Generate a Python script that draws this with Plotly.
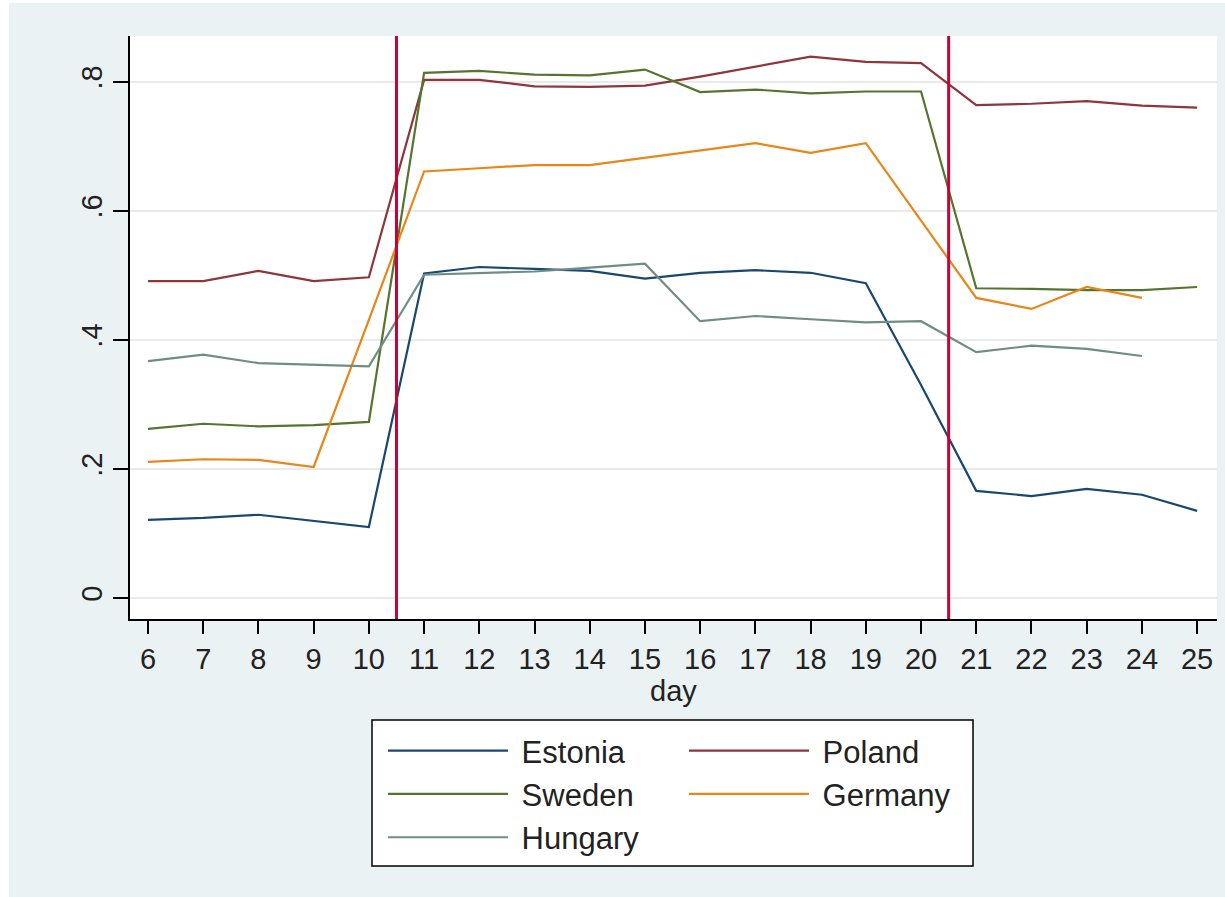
import plotly.graph_objects as go

days = list(range(6, 26))
estonia = [0.121, 0.124, 0.129, 0.119, 0.110, 0.503, 0.513, 0.510, 0.507, 0.495,
           0.504, 0.508, 0.504, 0.488, 0.330, 0.166, 0.158, 0.169, 0.160, 0.135]
poland = [0.491, 0.491, 0.507, 0.491, 0.497, 0.803, 0.803, 0.793, 0.792, 0.794,
          0.808, 0.823, 0.839, 0.831, 0.829, 0.764, 0.766, 0.770, 0.763, 0.760]
sweden = [0.262, 0.270, 0.266, 0.268, 0.273, 0.814, 0.817, 0.811, 0.810, 0.819,
          0.784, 0.788, 0.782, 0.785, 0.785, 0.480, 0.479, 0.477, 0.477, 0.482]
germany = [0.211, 0.215, 0.214, 0.203, 0.431, 0.661, 0.666, 0.671, 0.671, 0.682,
           0.694, 0.705, 0.690, 0.705, 0.585, 0.465, 0.448, 0.482, 0.465, None]
hungary = [0.367, 0.377, 0.364, 0.361, 0.359, 0.501, 0.503, 0.506, 0.512, 0.518,
           0.429, 0.437, 0.432, 0.427, 0.429, 0.381, 0.391, 0.386, 0.375, None]
event_days = [10.5, 20.5]
y_ticks = [0, 0.2, 0.4, 0.6, 0.8]
y_ticklabels = ["0", ".2", ".4", ".6", ".8"]

FONT = "Liberation Sans, Arial, sans-serif"
W, H = 1225, 897
L, R, T, B = 130, 8, 36, 278
pw, ph = W - L - R, H - T - B

def px(x):
    return (x - L) / pw

def py(y):
    return (H - B - y) / ph

series = [
    ("Estonia", estonia, "#1A476F", "legend"),
    ("Poland", poland, "#90353B", "legend2"),
    ("Sweden", sweden, "#55752F", "legend"),
    ("Germany", germany, "#E8861A", "legend2"),
    ("Hungary", hungary, "#6E8E84", "legend"),
]

fig = go.Figure()
for name, vals, col, lg in series:
    fig.add_trace(go.Scatter(x=days, y=vals, mode="lines", name="\u00a0" + name,
                             line=dict(color=col, width=2.2), legend=lg))

for d in event_days:
    fig.add_vline(x=d, line=dict(color="#C10534", width=3), layer="above")

# legend box
fig.add_shape(type="rect", xref="paper", yref="paper",
              x0=px(372), x1=px(973), y0=py(866), y1=py(720),
              fillcolor="white", line=dict(color="black", width=1.5), layer="above")
# white outer margins
fig.add_shape(type="rect", xref="paper", yref="paper",
              x0=px(0), x1=px(9), y0=py(897), y1=py(0),
              fillcolor="white", line=dict(width=0), layer="above")
fig.add_shape(type="rect", xref="paper", yref="paper",
              x0=px(0), x1=px(1225), y0=py(3), y1=py(0),
              fillcolor="white", line=dict(width=0), layer="above")

legend_common = dict(orientation="v", bgcolor="rgba(0,0,0,0)", borderwidth=0,
                     font=dict(family=FONT, size=31, color="#222"),
                     itemwidth=120, yanchor="top", xanchor="left",
                     tracegroupgap=0)
fig.update_layout(
    width=W, height=H,
    margin=dict(l=L, r=R, t=T, b=B, pad=0),
    paper_bgcolor="#EAF2F3", plot_bgcolor="white",
    font=dict(family=FONT, size=29, color="#222"),
    showlegend=True,
    legend=dict(x=px(383), y=py(724), **legend_common),
    legend2=dict(x=px(684), y=py(724), **legend_common),
    xaxis=dict(range=[5.674, 25.36], tickvals=days, ticks="outside", ticklen=13,
               tickwidth=1.5, tickcolor="black", showline=True, linecolor="black",
               linewidth=1.5, showgrid=False, zeroline=False,
               tickfont=dict(family=FONT, size=29, color="#222"),
               title=dict(text="day", font=dict(family=FONT, size=29, color="#222"),
                          standoff=2)),
    yaxis=dict(range=[-0.0326, 0.871], tickvals=y_ticks, ticktext=y_ticklabels,
               tickangle=-90, ticks="outside", ticklen=15, tickwidth=1.5,
               tickcolor="black", showline=True, linecolor="black", linewidth=1.5,
               showgrid=True, gridcolor="#EAEAEA", gridwidth=2, zeroline=False,
               tickfont=dict(family=FONT, size=29, color="#222")),
)

fig.write_html("out.html")
